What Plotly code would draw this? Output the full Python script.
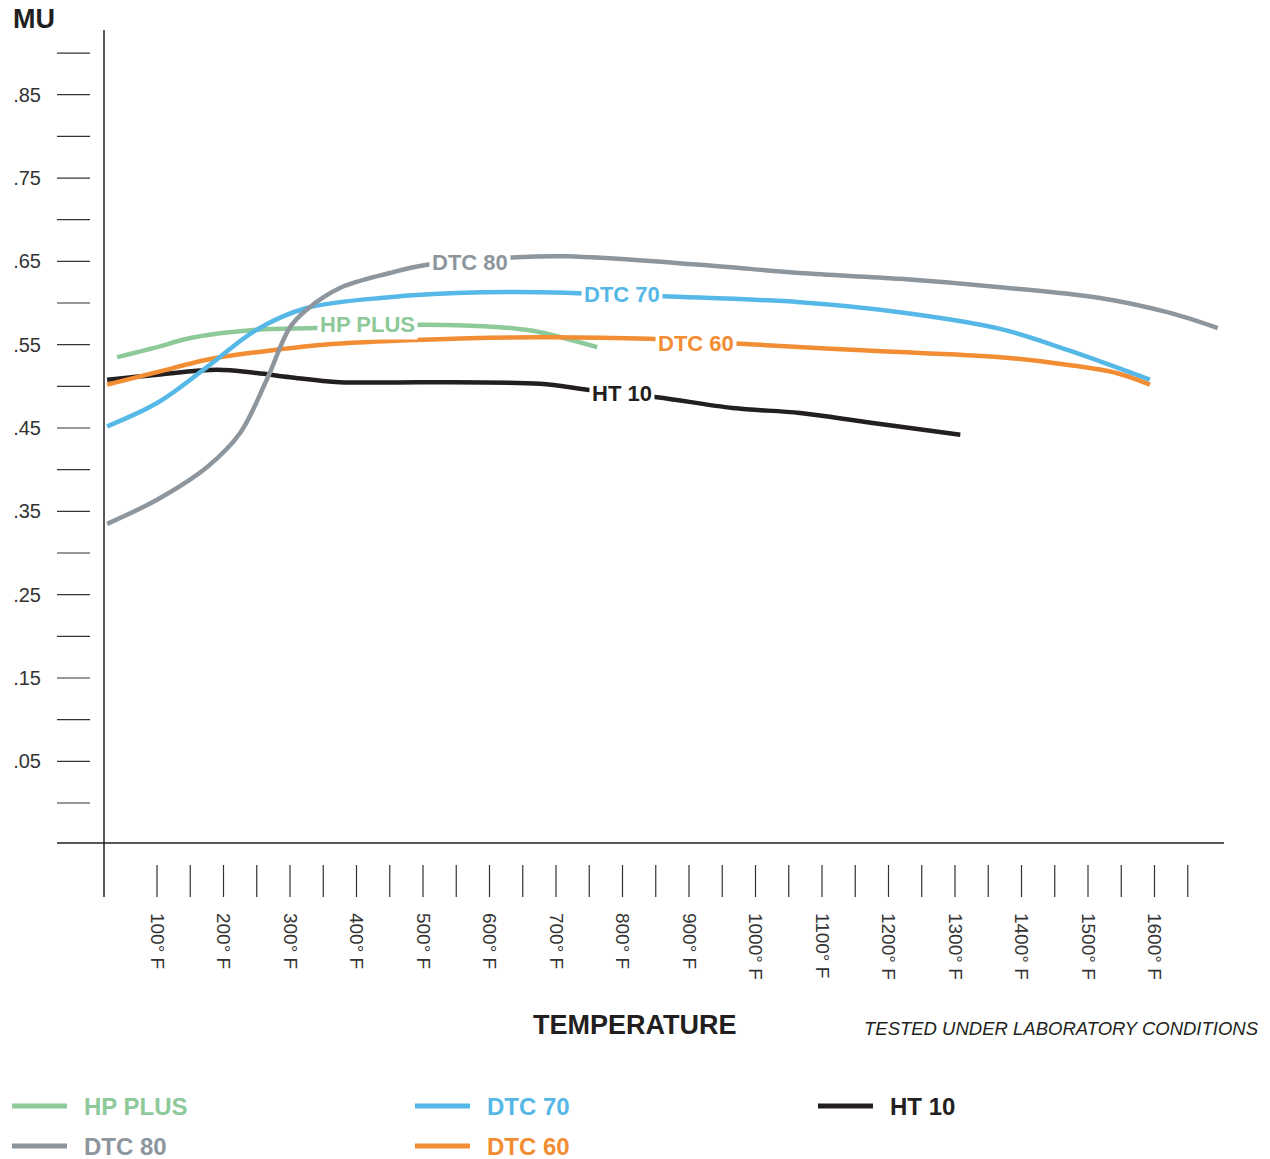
import plotly.graph_objects as go

# ---------------- data ----------------
hp_plus_t = [40, 100, 150, 250, 340, 500, 616, 676, 762]
hp_plus_mu = [0.535, 0.547, 0.558, 0.568, 0.570, 0.574, 0.571, 0.565, 0.547]

dtc70_t = [25, 100, 175, 250, 325, 450, 551, 676, 861, 1067, 1217, 1368, 1468, 1593]
dtc70_mu = [0.452, 0.480, 0.523, 0.568, 0.594, 0.607, 0.612, 0.613, 0.608, 0.601, 0.589, 0.569, 0.544, 0.508]

dtc80_t = [25, 100, 175, 225, 265, 300, 325, 375, 450, 506, 641, 716, 916, 1067, 1217, 1368, 1518, 1619, 1695]
dtc80_mu = [0.335, 0.364, 0.403, 0.444, 0.508, 0.571, 0.592, 0.618, 0.636, 0.646, 0.655, 0.656, 0.646, 0.636, 0.629, 0.619, 0.606, 0.589, 0.570]

dtc60_t = [25, 100, 175, 250, 350, 500, 676, 841, 977, 1168, 1368, 1468, 1543, 1593]
dtc60_mu = [0.502, 0.517, 0.532, 0.541, 0.550, 0.556, 0.559, 0.557, 0.551, 0.543, 0.535, 0.526, 0.516, 0.502]

ht10_t = [25, 100, 190, 250, 300, 375, 500, 676, 747, 852, 966, 1067, 1168, 1308]
ht10_mu = [0.508, 0.514, 0.520, 0.516, 0.511, 0.505, 0.505, 0.503, 0.496, 0.487, 0.474, 0.468, 0.457, 0.442]

series_names = ["HT 10", "HP PLUS", "DTC 60", "DTC 70", "DTC 80"]
series_colors = {"HP PLUS": "#8DC999", "DTC 70": "#55B8E7", "DTC 80": "#8D959D",
                 "DTC 60": "#F28D33", "HT 10": "#231F20"}
series_data = {"HP PLUS": (hp_plus_t, hp_plus_mu), "DTC 70": (dtc70_t, dtc70_mu),
               "DTC 80": (dtc80_t, dtc80_mu), "DTC 60": (dtc60_t, dtc60_mu),
               "HT 10": (ht10_t, ht10_mu)}
# inline label positions (temperature, mu)
label_pos = {"DTC 80": (571, 0.649), "DTC 70": (799, 0.610), "HP PLUS": (417, 0.574),
             "DTC 60": (911, 0.552), "HT 10": (799, 0.492)}

x_tick_vals = [100, 200, 300, 400, 500, 600, 700, 800, 900, 1000, 1100, 1200, 1300, 1400, 1500, 1600]
x_tick_text = [f"{v}° F" for v in x_tick_vals]
x_minor_ticks = list(range(100, 1651, 50))
y_tick_vals = [0.05, 0.15, 0.25, 0.35, 0.45, 0.55, 0.65, 0.75, 0.85]
y_tick_text = [".05", ".15", ".25", ".35", ".45", ".55", ".65", ".75", ".85"]
y_minor_ticks = [round(i * 0.05, 2) for i in range(0, 19)]

legend_rows = [["HP PLUS", "DTC 70", "HT 10"], ["DTC 80", "DTC 60"]]

# ---------------- layout geometry (reference pixel coords) ----------------
OFF = 8  # page body margin
W, H = 1270, 1159
L, R, T, B = 104, 1224, 30, 843
PW, PH = R - L, B - T


def px(xp):
    return (xp - L) / PW


def py(yp):
    return (B - yp) / PH


FONT = "Liberation Sans, Arial, Helvetica, sans-serif"
AX = "#231F20"

fig = go.Figure()
for name in series_names:
    t, mu = series_data[name]
    fig.add_trace(go.Scatter(x=t, y=mu, mode="lines", name=name,
                             line=dict(color=series_colors[name], width=4.5,
                                       shape="spline", smoothing=1.0),
                             showlegend=False, hoverinfo="skip"))

shapes = []
# axis lines
shapes.append(dict(type="line", xref="paper", yref="paper", x0=0, x1=0,
                   y0=py(897), y1=1, line=dict(color=AX, width=1.5)))
shapes.append(dict(type="line", xref="paper", yref="paper", x0=px(57), x1=1,
                   y0=0, y1=0, line=dict(color=AX, width=1.5)))
# y tick marks
for v in y_minor_ticks:
    shapes.append(dict(type="line", xref="paper", yref="y", x0=px(57), x1=px(90),
                       y0=v, y1=v, line=dict(color="#333333", width=1.2)))
# x tick marks
for v in x_minor_ticks:
    shapes.append(dict(type="line", xref="x", yref="paper", x0=v, x1=v,
                       y0=py(865), y1=py(897), line=dict(color="#333333", width=1.2)))

annotations = []
# inline labels
for name, (tx, my) in label_pos.items():
    annotations.append(dict(x=tx, y=my, xref="x", yref="y", text=f"<b>{name}</b>",
                            showarrow=False, bgcolor="white", borderpad=2,
                            font=dict(family=FONT, size=22, color=series_colors[name])))

# legend
col_x = [12, 415, 818]
row_y = [1106, 1146]
for r, row in enumerate(legend_rows):
    for c, name in enumerate(row):
        x0 = col_x[c]
        shapes.append(dict(type="line", xref="paper", yref="paper",
                           x0=px(x0), x1=px(x0 + 55), y0=py(row_y[r]), y1=py(row_y[r]),
                           line=dict(color=series_colors[name], width=5)))
        annotations.append(dict(x=px(x0 + 70), y=py(row_y[r]), xref="paper", yref="paper",
                                xanchor="left", yanchor="middle", showarrow=False,
                                text=f"<b>{name}</b>",
                                font=dict(family=FONT, size=24,
                                          color=series_colors[name] if name != "HT 10" else AX)))

annotations.append(dict(x=px(11), y=py(19), xref="paper", yref="paper", xanchor="left",
                        yanchor="middle", showarrow=False, text="<b>MU</b>",
                        font=dict(family=FONT, size=27, color=AX)))
annotations.append(dict(x=px(635), y=py(1025), xref="paper", yref="paper", xanchor="center",
                        yanchor="middle", showarrow=False, text="<b>TEMPERATURE</b>",
                        font=dict(family=FONT, size=27, color=AX)))
annotations.append(dict(x=px(1261), y=py(1028), xref="paper", yref="paper", xanchor="right",
                        yanchor="middle", showarrow=False,
                        text="<i>TESTED UNDER LABORATORY CONDITIONS</i>",
                        font=dict(family=FONT, size=18.5, color=AX)))

x_lo = (L - 90.5) / 0.665
x_hi = (R - 90.5) / 0.665
y_lo = (803 - B) / 833.3
y_hi = (803 - T) / 833.3

fig.update_layout(
    width=W - OFF, height=H - OFF,
    margin=dict(l=L - OFF, r=W - R, t=T - OFF, b=H - B, pad=0),
    paper_bgcolor="white", plot_bgcolor="white",
    shapes=shapes, annotations=annotations,
    xaxis=dict(range=[x_lo, x_hi], showgrid=False, zeroline=False, showline=False,
               automargin=False,
               ticks="", tickvals=x_tick_vals, ticktext=x_tick_text, tickangle=90,
               ticklabelstandoff=69, tickfont=dict(family=FONT, size=19, color="#333333")),
    yaxis=dict(range=[y_lo, y_hi], showgrid=False, zeroline=False, showline=False,
               automargin=False,
               ticks="", tickvals=y_tick_vals, ticktext=y_tick_text,
               ticklabelstandoff=62, tickfont=dict(family=FONT, size=20, color="#333333")),
    showlegend=False,
)

fig.write_html("out.html")
